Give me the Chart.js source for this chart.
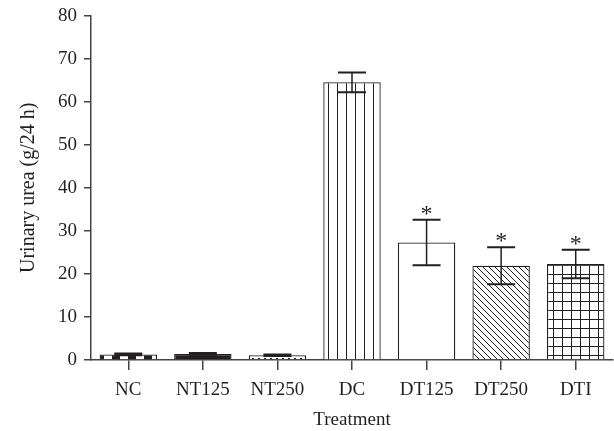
<!DOCTYPE html>
<html>
<head>
<meta charset="utf-8">
<script src="https://cdn.jsdelivr.net/npm/chart.js@4"></script>
<style>
  html, body { margin: 0; padding: 0; background: #fff; }
  #wrap { width: 614px; height: 431px; }
</style>
</head>
<body>
<div id="wrap"><canvas id="myChart" width="614" height="431"></canvas></div>
<script>
// treatment groups on the x axis
const groups = ['NC', 'NT125', 'NT250', 'DC', 'DT125', 'DT250', 'DTI'];

// mean urinary urea (g/24 h)
const urea = [1.3, 1.4, 1.1, 64.5, 27.3, 21.9, 22.3];

// error (SEM) for each group
const errs = [0.2, 0.2, 0.15, 2.3, 5.3, 4.3, 3.3];

// significance marks above the error bars
const marks = ['', '', '', '', '*', '*', '*'];

const yTicks = [0, 10, 20, 30, 40, 50, 60, 70, 80];

const ink = '#231f20';
const serif = "'Liberation Serif', 'DejaVu Serif', serif";

//build a small repeating fill pattern
function makePattern(w, h, draw)
{
    const c = document.createElement('canvas');
    c.width = w;
    c.height = h;
    const g = c.getContext('2d');
    g.fillStyle = '#fff';
    g.fillRect(0, 0, w, h);
    g.fillStyle = ink;
    g.strokeStyle = ink;
    draw(g);
    return g.createPattern(c, 'repeat');
}

const fills = [
    // NC: bricks
    makePattern(16, 8, g => { g.fillRect(0, 2, 8, 6); }),
    // NT125: solid
    ink,
    // NT250: dotted
    makePattern(6, 3, g => { g.fillRect(0, 1, 2, 1); }),
    // DC: vertical lines
    makePattern(9, 9, g => { g.fillRect(4, 0, 1, 9); }),
    // DT125: open
    '#ffffff',
    // DT250: diagonal hatch
    makePattern(6, 6, g => {
        g.lineWidth = 1;
        g.beginPath();
        g.moveTo(-1, -1); g.lineTo(7, 7);
        g.moveTo(-7, -1); g.lineTo(1, 7);
        g.moveTo(5, -1); g.lineTo(13, 7);
        g.stroke();
    }),
    // DTI: grid
    makePattern(9, 9, g => { g.fillRect(4, 0, 1, 9); g.fillRect(0, 4, 9, 1); })
];

//error bars and asterisks drawn off the scales
const errorBars = {
    id: 'errorBars',
    afterDatasetsDraw(chart) {
        const ctx = chart.ctx;
        const xs = chart.scales.x;
        const ys = chart.scales.y;
        ctx.save();
        ctx.strokeStyle = ink;
        ctx.fillStyle = ink;
        for (let i = 0; i < urea.length; i++)
        {
            const x = xs.getPixelForValue(i);
            const yt = ys.getPixelForValue(urea[i] + errs[i]);
            const yb = ys.getPixelForValue(urea[i] - errs[i]);
            ctx.lineWidth = 1.5;
            ctx.beginPath();
            ctx.moveTo(x, yt); ctx.lineTo(x, yb);
            ctx.stroke();
            ctx.lineWidth = 2;
            ctx.beginPath();
            ctx.moveTo(x - 14, yt); ctx.lineTo(x + 14, yt);
            ctx.moveTo(x - 14, yb); ctx.lineTo(x + 14, yb);
            ctx.stroke();
            if (marks[i])
            {
                ctx.font = '24px ' + serif;
                ctx.textAlign = 'center';
                ctx.textBaseline = 'middle';
                ctx.fillText(marks[i], x, yt - 5);
            }
        }
        ctx.restore();
    }
};

Chart.defaults.font.family = serif;
Chart.defaults.color = ink;

const myChart = new Chart(document.getElementById('myChart').getContext('2d'), {
    type: 'bar',
    data: {
        labels: groups,
        datasets: [{
            data: urea,
            backgroundColor: fills,
            borderColor: ink,
            borderWidth: 1.3,
            barPercentage: 0.77,
            categoryPercentage: 1.0
        }]
    },
    options: {
        responsive: false,
        animation: false,
        layout: { padding: { top: 0, right: 1, left: 17, bottom: 0 } },
        plugins: {
            legend: { display: false },
            tooltip: { enabled: false }
        },
        scales: {
            x: {
                afterFit: scale => { scale.height = 71; },
                grid: { display: true, offset: false, drawOnChartArea: false, drawTicks: true, tickLength: 10, color: '#444', lineWidth: 1.5 },
                border: { display: true, color: '#444', width: 1.5 },
                ticks: { font: { size: 19, lineHeight: 1 }, color: ink, padding: 11 },
                title: { display: true, text: 'Treatment', font: { size: 19 }, color: ink, padding: { top: 0, bottom: 0 } }
            },
            y: {
                min: 0,
                max: 80,
                afterBuildTicks: axis => { axis.ticks = yTicks.map(v => ({ value: v })); },
                grid: { display: true, drawOnChartArea: false, drawTicks: true, tickLength: 7, color: '#444', lineWidth: 1.5 },
                border: { display: true, color: '#444', width: 1.5 },
                ticks: { font: { size: 19, lineHeight: 0.9 }, color: ink, padding: 7 },
                title: { display: true, text: 'Urinary urea (g/24 h)', font: { size: 20 }, color: ink, padding: { top: 0, bottom: 10 } }
            }
        }
    },
    plugins: [errorBars]
});
</script>
</body>
</html>
